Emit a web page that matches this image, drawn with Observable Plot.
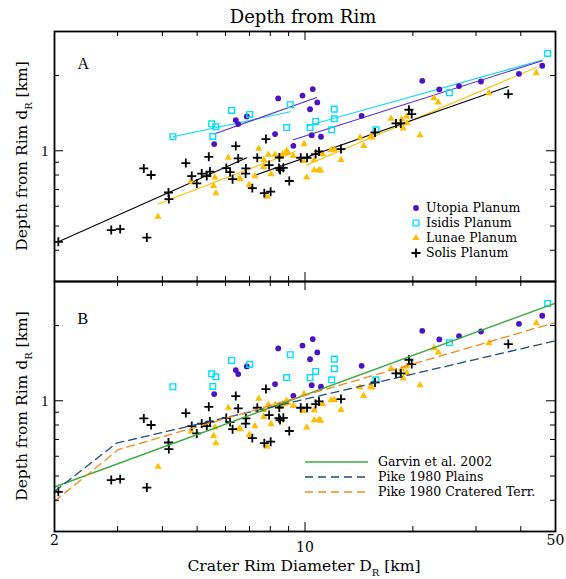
<!DOCTYPE html>
<html><head><meta charset="utf-8">
<script src="https://cdn.jsdelivr.net/npm/d3@7"></script>
<script src="https://cdn.jsdelivr.net/npm/@observablehq/plot@0.6"></script>
<style>
body{margin:0;background:#fff}
#chart{position:relative;width:566px;height:579px;background:#fff;overflow:hidden}
#chart svg{position:absolute;left:0}
</style></head><body><div id="chart"></div>
<script>
// ---------- data ----------
const xDomain = [2, 50];
const yDomain = [0.3, 3];
const xTicksMinor = [3, 4, 5, 6, 7, 8, 9, 20, 30, 40];
const xTicksMajor = [10];
const xTickLabelsEdge = [2, 50];
const xTickLabelsMid = [10];
const yTicksMinor = [0.4, 0.5, 0.6, 0.7, 0.8, 0.9, 2];
const yTicksMajor = [1];

const seriesNames = ["Utopia Planum", "Isidis Planum", "Lunae Planum", "Solis Planum"];
const modelNames = ["Garvin et al. 2002", "Pike 1980 Plains", "Pike 1980 Cratered Terr."];

const utopiaD = [5.58,6.41,6.51,6.88,8.25,8.42,9.28,9.84,10.33,10.51,10.82,10.44,11.08,14.39,21.24,23.70,26.90,30.98,39.54,45.92];
const utopiaDepth = [1.064,1.327,1.279,1.372,1.166,1.619,1.047,1.663,1.466,1.766,1.561,1.155,1.138,1.380,1.905,1.759,1.815,1.893,2.032,2.188];

const isidisD = [4.28,5.49,5.64,5.53,6.24,7.01,9.10,8.89,10.33,10.71,12.07,12.07,11.87,15.78,25.28,47.54];
const isidisDepth = [1.138,1.282,1.247,1.141,1.450,1.397,1.528,1.239,1.239,1.310,1.468,1.343,1.213,1.213,1.706,2.450];

const lunaeD = [3.89,4.81,5.56,5.64,5.61,6.11,6.56,6.60,6.99,7.25,7.43,7.67,7.67,7.83,7.90,8.04,8.25,8.52,8.66,8.79,8.89,8.95,9.28,9.94,9.89,10.11,10.61,10.61,10.94,11.06,11.20,11.82,12.07,12.60,14.24,14.58,15.25,15.38,17.38,18.61,18.80,19.25,19.22,20.94,22.90,23.54,32.62,44.21];
const lunaeDepth = [0.545,0.754,0.724,0.677,0.782,0.938,0.775,0.770,0.731,0.792,1.019,0.920,0.863,0.656,0.964,0.807,0.964,0.946,0.970,0.975,1.000,0.982,0.953,1.064,0.912,0.783,0.918,0.837,0.839,0.832,0.970,1.006,1.009,0.920,1.130,1.047,1.138,1.130,1.343,1.339,1.228,1.291,1.372,1.155,1.625,1.561,1.702,2.046];

const solisD = [2.05,2.88,3.05,3.62,3.55,3.72,4.16,4.17,4.65,4.83,4.99,5.15,5.32,5.39,5.43,6.03,6.18,6.28,6.41,6.51,6.84,6.83,7.13,7.36,7.70,7.78,7.94,8.02,8.48,8.46,8.52,8.70,9.04,9.73,10.13,10.71,10.94,12.60,15.68,17.94,18.50,19.50,19.85,36.92];
const solisDepth = [0.4325,0.4817,0.486,0.4498,0.850,0.800,0.681,0.641,0.893,0.792,0.740,0.811,0.792,0.946,0.826,0.853,0.822,0.770,1.044,0.932,0.850,0.811,0.709,0.938,0.677,1.114,0.877,0.686,0.940,0.853,0.837,0.855,0.757,0.938,0.938,0.970,0.994,1.016,1.184,1.286,1.286,1.459,1.402,1.686];

// fit segments in panel A: [D, depth] end points
const utopiaFit1 = [[5.58,1.166],[10.78,1.634]];
const utopiaFit2 = [[9.28,1.107],[45.9,2.291]];
const isidisFit1 = [[4.28,1.138],[9.10,1.432]];
const isidisFit2 = [[10.15,1.259],[45.9,2.306]];
const lunaeFit1 = [[3.89,0.612],[9.38,0.994]];
const lunaeFit2 = [[10.11,0.877],[44.21,2.154]];
const solisFit1 = [[2.05,0.4325],[6.88,0.938]];
const solisFit2 = [[7.17,0.794],[36.92,1.808]];

// model curves in panel B
const garvin = [[2,0.452],[50,2.459]];
const pikePlains = [[2,0.434],[2.98,0.677],[50,1.738]];
const pikeCratered = [[2,0.396],[3.01,0.637],[50,2.057]];

// ---------- styling ----------
const C = {
  utopia: "#4a12c4", utopiaLine: "#5a2ad8",
  isidis: "#00e0ff", isidisLine: "#10dcf4",
  lunae: "#ffbf00", solis: "#000000",
  garvin: "#3aab3c", plains: "#1f4e7a", cratered: "#f28a1e"
};
const FONT = "DejaVu Serif";
const W = 566, ML = 54, MR = 11, PW = W - ML - MR, PH = 250;
const R_PLUS = 3.0, R_TRI = 2.7, R_CIRC = 2.9, R_SQ = 3.2;

const toRows = (xs, ys) => xs.map((D, i) => ({D, d: ys[i]}));
const utopia = toRows(utopiaD, utopiaDepth);
const isidis = toRows(isidisD, isidisDepth);
const lunae = toRows(lunaeD, lunaeDepth);
const solis = toRows(solisD, solisDepth);

function frameTicks() {
  return [
    Plot.tickX(xTicksMinor, {x: d => d, insetTop: PH - 5, stroke: "black"}),
    Plot.tickX(xTicksMinor, {x: d => d, insetBottom: PH - 5, stroke: "black"}),
    Plot.tickX(xTicksMajor, {x: d => d, insetTop: PH - 9, stroke: "black"}),
    Plot.tickX(xTicksMajor, {x: d => d, insetBottom: PH - 9, stroke: "black"}),
    Plot.tickY(yTicksMinor, {y: d => d, insetRight: PW - 5, stroke: "black"}),
    Plot.tickY(yTicksMinor, {y: d => d, insetLeft: PW - 5, stroke: "black"}),
    Plot.tickY(yTicksMajor, {y: d => d, insetRight: PW - 9, stroke: "black"}),
    Plot.tickY(yTicksMajor, {y: d => d, insetLeft: PW - 9, stroke: "black"}),
    Plot.text(yTicksMajor, {y: d => d, text: d => String(d), frameAnchor: "left", dx: -6, textAnchor: "end", fontSize: 15, fontFamily: "Liberation Serif", fill: "black"}),
    Plot.frame({stroke: "black", strokeWidth: 1.8})
  ];
}

function pointMarks() {
  return [
    Plot.dot(utopia, {x: "D", y: "d", symbol: "circle", r: R_CIRC, fill: C.utopia, stroke: "none"}),
    Plot.dot(isidis, {x: "D", y: "d", symbol: "square", r: R_SQ, fill: "none", stroke: C.isidis, strokeWidth: 1.4}),
    Plot.dot(lunae, {x: "D", y: "d", symbol: "triangle", r: R_TRI, fill: C.lunae, stroke: "none"}),
    Plot.dot(solis, {x: "D", y: "d", symbol: "plus", r: R_PLUS, stroke: C.solis, strokeWidth: 1.8})
  ];
}

const seg = (pts, stroke, extra = {}) => Plot.line(pts, {x: p => p[0], y: p => p[1], stroke, strokeWidth: 1.1, ...extra});

const common = {
  width: W, marginLeft: ML, marginRight: MR,
  x: {type: "log", domain: xDomain, axis: null},
  y: {type: "log", domain: yDomain, axis: null},
  style: {fontFamily: FONT, background: "transparent", overflow: "visible"}
};

// ---------- panel A ----------
const plotA = Plot.plot({
  ...common, height: 282, marginTop: 31, marginBottom: 1,
  marks: [
    seg(isidisFit1, C.isidisLine), seg(isidisFit2, C.isidisLine),
    seg(utopiaFit1, C.utopiaLine), seg(utopiaFit2, C.utopiaLine),
    seg(lunaeFit1, C.lunae), seg(lunaeFit2, C.lunae),
    seg(solisFit1, C.solis), seg(solisFit2, C.solis),
    ...pointMarks(),
    Plot.text(["A"], {text: d => d, frameAnchor: "top-left", dx: 23, dy: 37.5, lineAnchor: "bottom", textAnchor: "start", fontSize: 16, fontFamily: "Liberation Serif", fill: "black"}),
    ...frameTicks()
  ]
});

// ---------- panel B ----------
const plotB = Plot.plot({
  ...common, height: 299, marginTop: 1, marginBottom: 48,
  marks: [
    ...pointMarks(),
    seg(garvin, C.garvin, {strokeWidth: 1.4}),
    seg(pikePlains, C.plains, {strokeWidth: 1.3, strokeDasharray: "8,5"}),
    seg(pikeCratered, C.cratered, {strokeWidth: 1.3, strokeDasharray: "8,5"}),
    Plot.text(["B"], {text: d => d, frameAnchor: "top-left", dx: 23, dy: 42, lineAnchor: "bottom", textAnchor: "start", fontSize: 16, fontFamily: "Liberation Serif", fill: "black"}),
    Plot.text(xTickLabelsEdge, {x: d => d, text: d => String(d), frameAnchor: "bottom", dy: 13, fontSize: 14, fill: "black"}),
    Plot.text(xTickLabelsMid, {x: d => d, text: d => String(d), frameAnchor: "bottom", dy: 20, fontSize: 14, fill: "black"}),
    ...frameTicks()
  ]
});

const chart = document.getElementById("chart");
plotA.style.top = "0px";
plotB.style.top = "280px";
chart.appendChild(plotA);
chart.appendChild(plotB);

// ---------- titles and legends (real SVG text) ----------
const sA = d3.select(plotA), sB = d3.select(plotB);

sA.append("text").attr("x", 303).attr("y", 23).attr("text-anchor", "middle")
  .attr("font-family", FONT).attr("font-size", 18).attr("fill", "black").text("Depth from Rim");

function yTitle(sel, cy) {
  const t = sel.append("text").attr("transform", `translate(27,${cy}) rotate(-90)`)
    .attr("text-anchor", "middle").attr("font-family", FONT).attr("font-size", 15.5).attr("fill", "black");
  t.append("tspan").text("Depth from Rim d");
  t.append("tspan").attr("dy", 5).attr("font-size", 10).text("R");
  t.append("tspan").attr("dy", -5).text(" [km]");
}
yTitle(sA, 156);
yTitle(sB, 126);

const xt = sB.append("text").attr("x", 304).attr("y", 291).attr("text-anchor", "middle")
  .attr("font-family", FONT).attr("font-size", 15.6).attr("fill", "black");
xt.append("tspan").text("Crater Rim Diameter D");
xt.append("tspan").attr("dy", 5).attr("font-size", 10).text("R");
xt.append("tspan").attr("dy", -5).text(" [km]");

// legend A
const legA = [
  {name: seriesNames[0], sym: d3.symbolCircle, size: Math.PI * R_CIRC * R_CIRC, fill: C.utopia, stroke: "none", sw: 0},
  {name: seriesNames[1], sym: d3.symbolSquare, size: Math.PI * R_SQ * R_SQ, fill: "none", stroke: C.isidis, sw: 1.4},
  {name: seriesNames[2], sym: d3.symbolTriangle, size: Math.PI * R_TRI * R_TRI, fill: C.lunae, stroke: "none", sw: 0},
  {name: seriesNames[3], sym: d3.symbolPlus, size: Math.PI * R_PLUS * R_PLUS, fill: "none", stroke: "black", sw: 1.8}
];
legA.forEach((e, i) => {
  const y = 208 + 15 * i;
  sA.append("path").attr("transform", `translate(416,${y})`).attr("d", d3.symbol(e.sym, e.size)())
    .attr("fill", e.fill).attr("stroke", e.stroke).attr("stroke-width", e.sw);
  sA.append("text").attr("x", 426).attr("y", y).attr("dy", "0.35em").attr("text-anchor", "start")
    .attr("font-family", FONT).attr("font-size", 12.5).attr("fill", "black").text(e.name);
});

// legend B
const legB = [
  {name: modelNames[0], stroke: C.garvin, dash: null},
  {name: modelNames[1], stroke: C.plains, dash: "8,5"},
  {name: modelNames[2], stroke: C.cratered, dash: "8,5"}
];
legB.forEach((e, i) => {
  const y = 462 - 280 + 15 * i;
  sB.append("line").attr("x1", 305).attr("x2", 368).attr("y1", y).attr("y2", y)
    .attr("stroke", e.stroke).attr("stroke-width", 1.4).attr("stroke-dasharray", e.dash);
  sB.append("text").attr("x", 378).attr("y", y).attr("dy", "0.35em").attr("text-anchor", "start")
    .attr("font-family", FONT).attr("font-size", 12.5).attr("fill", "black").text(e.name);
});
</script></body></html>
